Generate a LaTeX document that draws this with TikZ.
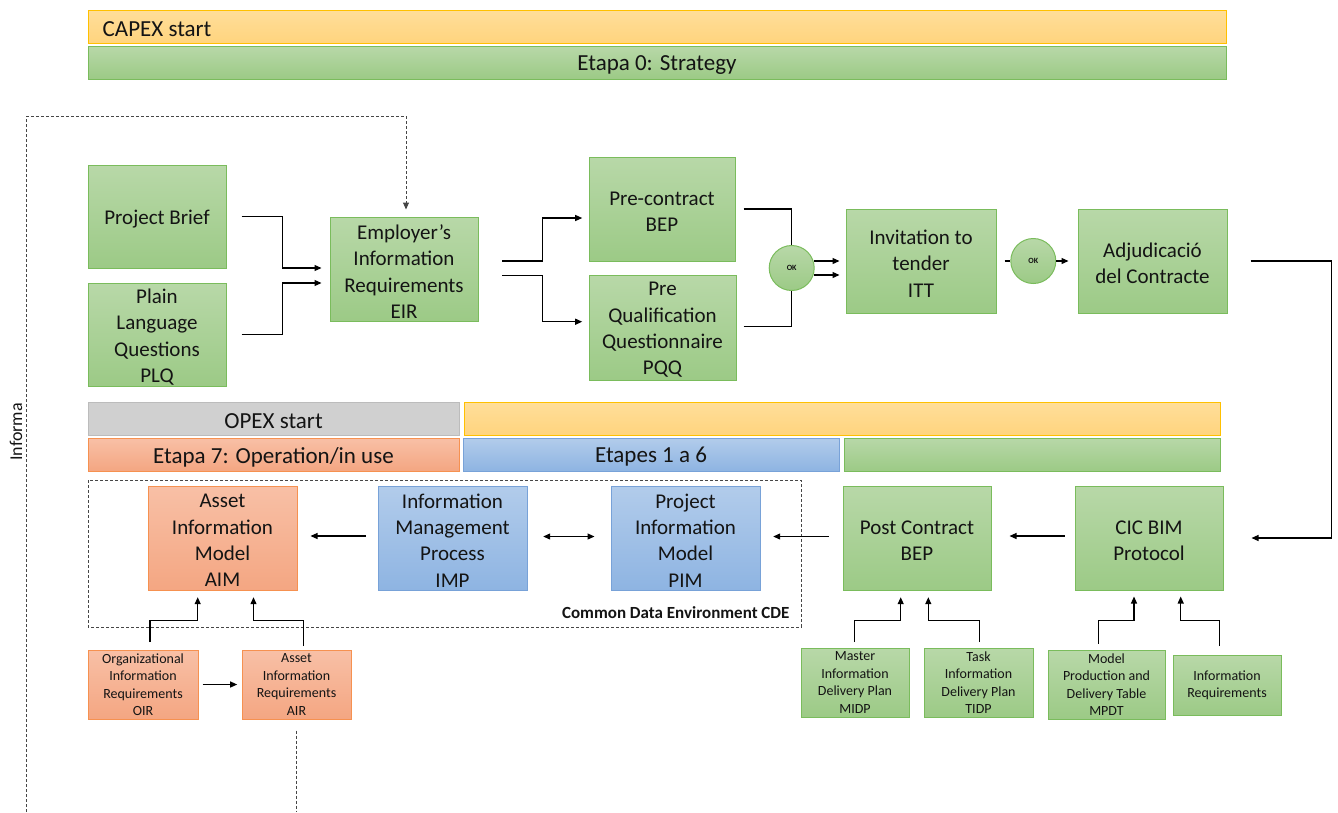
\documentclass[tikz,border=0pt]{standalone}
\usepackage{fontspec}
\setmainfont{Carlito}
\usetikzlibrary{calc,arrows.meta}
\definecolor{gtop}{RGB}{184,216,168}
\definecolor{gbot}{RGB}{156,202,134}
\definecolor{gbrd}{RGB}{122,188,92}
\definecolor{stop}{RGB}{248,192,166}
\definecolor{sbot}{RGB}{244,166,130}
\definecolor{sbrd}{RGB}{246,145,80}
\definecolor{btop}{RGB}{178,204,235}
\definecolor{bbot}{RGB}{142,180,226}
\definecolor{bbrd}{RGB}{120,162,216}
\definecolor{ytop}{RGB}{255,222,154}
\definecolor{ybot}{RGB}{255,212,126}
\definecolor{ybrd}{RGB}{255,192,0}
\definecolor{grayf}{RGB}{208,208,208}
\definecolor{grayb}{RGB}{188,188,188}
\definecolor{dashc}{RGB}{70,70,70}
\definecolor{txt}{RGB}{20,20,20}
\begin{document}
\begin{tikzpicture}[x=1pt,y=-1pt,
  box/.style={line width=1pt, inner sep=0pt, align=center, text=txt},
  big/.style={label={[font=\fontsize{21}{26.3}\selectfont, align=center, text=txt, inner sep=0pt, yshift=-2.5pt]center:#1}},
  small/.style={font=\fontsize{14}{17.4}\selectfont},
  gbox/.style={box, draw=gbrd, top color=gtop, bottom color=gbot},
  sbox/.style={box, draw=sbrd, top color=stop, bottom color=sbot},
  bbox/.style={box, draw=bbrd, top color=btop, bottom color=bbot},
  ybox/.style={box, draw=ybrd, top color=ytop, bottom color=ybot},
  graybox/.style={box, draw=grayb, fill=grayf},
  bar/.style={minimum height=33pt, label={[font=\fontsize{23}{26}\selectfont, text=txt, inner sep=0pt, yshift=-2.5pt]center:#1}},
  okc/.style={circle, draw=gbrd, line width=1pt, top color=gtop, bottom color=gbot, minimum size=45pt, inner sep=0pt, text=txt, font=\fontsize{8}{9}\bfseries\selectfont},
  ln/.style={line width=1.2pt, black},
  arr/.style={ln, -{Triangle[length=7pt,width=6pt]}},
  darr/.style={ln, {Triangle[length=7pt,width=6pt]}-{Triangle[length=7pt,width=6pt]}},
  dline/.style={line width=1pt, dashc, dash pattern=on 3pt off 2pt},
]
\useasboundingbox (0,0) rectangle (1338,812);

% top bars
\node[ybox, minimum width=1138pt, minimum height=33pt, label={[font=\fontsize{23}{26}\selectfont, text=txt, inner sep=0pt, anchor=west, xshift=15pt, yshift=-2.5pt]west:CAPEX start}] (capex) at (657,26.5) {};
\node[gbox, bar={Etapa 0: Strategy}, minimum width=1138pt] (etapa0) at (657,62.5) {};

% middle bars
\node[graybox, bar={OPEX start}, minimum width=371pt] (opex) at (273.5,418.5) {};
\node[ybox, minimum height=33pt, minimum width=756pt] (ybar) at (842,418.5) {};
\node[sbox, bar={Etapa 7: Operation/in use}, minimum width=371pt] (etapa7) at (273.5,454.5) {};
\node[bbox, bar={Etapes 1 a 6}, minimum width=376pt] (etapes) at (651,454.5) {};
\node[gbox, minimum height=33pt, minimum width=376pt] (gbar) at (1032,454.5) {};

% CDE frame
\draw[dline] (88,480) rectangle (801,627);
\coordinate (cdecorner) at (801,627);
\node[font=\fontsize{17}{20}\bfseries\selectfont, anchor=east, text=txt] (cdelabel) at ($(cdecorner)+(-8,-14.5)$) {Common Data Environment CDE};

% upper row
\node[gbox, big={Project Brief}, minimum width=138pt, minimum height=103pt] (pb) at (157,216.5) {};
\node[gbox, big={Plain\\Language\\Questions\\PLQ}, minimum width=138pt, minimum height=103pt] (plq) at (157,334.5) {};
\node[gbox, big={Employer’s\\Information\\Requirements\\EIR}, minimum width=148pt, minimum height=104pt] (eir) at (404,269) {};
\node[gbox, big={Pre-contract\\BEP}, minimum width=146pt, minimum height=104pt] (bep) at (662,209) {};
\node[gbox, big={Pre\\Qualification\\Questionnaire\\PQQ}, minimum width=147pt, minimum height=105pt] (pqq) at (662.5,327.5) {};
\node[okc] (ok1) at (791.7,268) {OK};
\node[gbox, big={Invitation to\\tender\\ITT}, minimum width=150pt, minimum height=104pt] (itt) at (921,261) {};
\node[okc] (ok2) at (1033.3,261) {OK};
\node[gbox, big={Adjudicació\\del Contracte}, minimum width=149pt, minimum height=104pt] (adj) at (1152.5,261) {};

% lower row
\node[sbox, big={Asset\\Information\\Model\\AIM}, minimum width=149pt, minimum height=104pt] (aim) at (222.5,538) {};
\node[bbox, big={Information\\Management\\Process\\IMP}, minimum width=149pt, minimum height=104pt] (imp) at (452.5,538) {};
\node[bbox, big={Project\\Information\\Model\\PIM}, minimum width=149pt, minimum height=104pt] (pim) at (685.5,538) {};
\node[gbox, big={Post Contract\\BEP}, minimum width=148pt, minimum height=104pt] (post) at (917,538) {};
\node[gbox, big={CIC BIM\\Protocol}, minimum width=148pt, minimum height=104pt] (cic) at (1149,538) {};

% small boxes
\node[sbox, small, minimum width=110pt, minimum height=69pt] (oir) at (143,684.5) {Organizational\\Information\\Requirements\\OIR};
\node[sbox, small, minimum width=109pt, minimum height=69pt] (air) at (296.5,684.5) {Asset\\Information\\Requirements\\AIR};
\node[gbox, small, minimum width=108pt, minimum height=69pt] (midp) at (855,682.5) {Master\\Information\\Delivery Plan\\MIDP};
\node[gbox, small, minimum width=109pt, minimum height=69pt] (tidp) at (978.5,682.5) {Task\\Information\\Delivery Plan\\TIDP};
\node[gbox, small, minimum width=117pt, minimum height=69pt] (mpdt) at (1106.5,684.5) {Model\\Production and\\Delivery Table\\MPDT};
\node[gbox, small, minimum width=108pt, minimum height=60pt] (ireq) at (1227,685) {Information\\Requirements};

% Informa
\node[rotate=90, font=\fontsize{18}{20}\selectfont, text=txt] (informa) at (16,432) {Informa};
\coordinate (infbot) at (26.7,812);
\draw[dline] (infbot) |- ($(eir.north)+(2,-100.3)$);
\draw[dline, -{Triangle[length=7pt,width=6pt]}, shorten >=7pt] ($(eir.north)+(2,-100.3)$) -- ($(eir.north)+(2,0)$);
\coordinate (airbot) at (296.5,812);
\draw[dline] ($(air.south)+(0,11)$) -- (airbot);

% connectors upper
\draw[arr, shorten <=15pt, shorten >=8pt] (pb.east) -- ++(55.7,0) |- ($(eir.west)+(0,-1)$);
\draw[arr, shorten <=15pt, shorten >=8pt] (plq.east) -- ++(55.7,0) |- ($(eir.west)+(0,14)$);
\draw[arr, shorten <=23.7pt, shorten >=6.3pt] ($(eir.east)+(0,-8)$) -- ++(64,0) |- ($(bep.west)+(0,9)$);
\draw[arr, shorten <=23.7pt, shorten >=6.3pt] ($(eir.east)+(0,6.7)$) -- ++(64,0) |- ($(pqq.west)+(0,-5.8)$);
\draw[ln, shorten <=8pt] (bep.east) -| (ok1.north);
\draw[ln, shorten <=7pt] ($(pqq.east)+(0,-0.8)$) -| (ok1.south);
\draw[arr, shorten >=6pt] ($(ok1.east)+(-0.8,-7)$) -- (itt.west);
\draw[arr, shorten >=6pt] ($(ok1.east)+(-0.8,7)$) -- ($(itt.west)+(0,14)$);
\draw[ln, shorten <=8pt] (itt.east) -- (ok2.west);
\draw[arr, shorten >=9pt] (ok2.east) -- (adj.west);
\draw[arr, shorten <=23pt, shorten >=28pt] (adj.east) -- ++(104,0) |- (cic.east);

% connectors lower
\draw[arr, shorten <=10pt, shorten >=18pt] ($(cic.west)+(0,-2)$) -- ($(post.east)+(0,-2)$);
\draw[arr, shorten <=13.7pt, shorten >=12.7pt] ($(post.west)+(0,-1.5)$) -- ($(pim.east)+(0,-1.5)$);
\draw[darr, shorten <=15.7pt, shorten >=16pt] ($(imp.east)+(0,-1.5)$) -- ($(pim.west)+(0,-1.5)$);
\draw[arr, shorten <=11.3pt, shorten >=13pt] ($(imp.west)+(0,-2)$) -- ($(aim.east)+(0,-2)$);
\draw[arr, shorten <=4pt, shorten >=4.3pt] (oir.east) -- (air.west);
\draw[arr, shorten <=7.3pt, shorten >=6.7pt] ($(oir.north)+(7,0)$) -- ++(0,-29.3) -| ($(aim.south)+(-24.8,0)$);
\draw[arr, shorten <=3.3pt, shorten >=6.7pt] ($(air.north)+(7,0)$) -- ++(0,-29.3) -| ($(aim.south)+(31,0)$);
\draw[arr, shorten <=5.3pt, shorten >=6.7pt] ($(midp.north)+(-0.7,0)$) -- ++(0,-27.3) -| ($(post.south)+(-16.3,0)$);
\draw[arr, shorten <=5.3pt, shorten >=6.7pt] ($(tidp.north)+(0.8,0)$) -- ++(0,-27.3) -| ($(post.south)+(11.3,0)$);
\draw[arr, shorten <=6pt, shorten >=6pt] ($(mpdt.north)+(-8.2,0)$) -- ++(0,-29.3) -| ($(cic.south)+(-15,0)$);
\draw[arr, shorten <=8.3pt, shorten >=6pt] ($(ireq.north)+(-7.7,0)$) -- ++(0,-34.3) -| ($(cic.south)+(31.7,0)$);
\end{tikzpicture}
\end{document}
